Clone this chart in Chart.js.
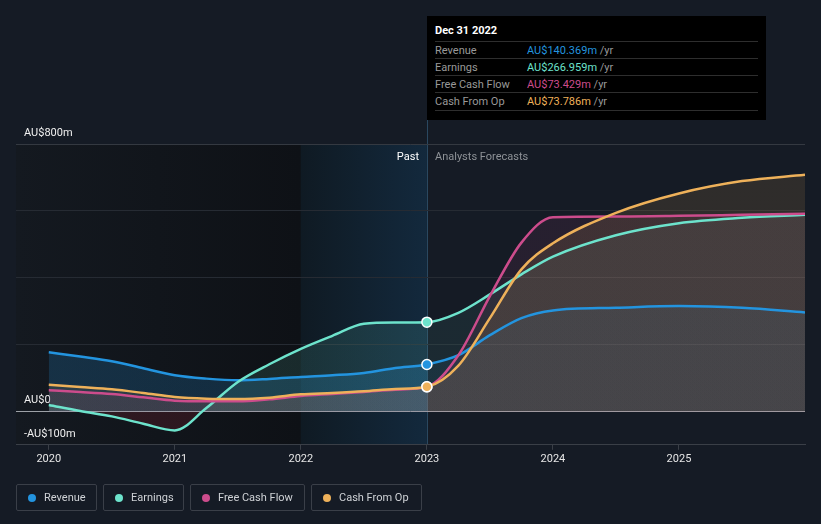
<!DOCTYPE html>
<html>

<head>
  <title>Earnings and Revenue Growth</title>
  <script src="https://cdn.jsdelivr.net/npm/chart.js"></script>
  <style>
    body { margin: 0; background: #151b25; font-family: Roboto, sans-serif; }
    #wrap { position: relative; width: 821px; height: 524px; overflow: hidden; }
    #chart { position: absolute; left: 0; top: 0; }
    .tip { position: absolute; left: 427px; top: 16px; width: 339px; height: 104px; background: #000; font-size: 11px; }
    .tip .title { position: absolute; left: 8px; top: 8px; color: #fff; font-weight: bold; }
    .tip .row { position: absolute; left: 8px; width: 323px; height: 17px; border-top: 1px solid #2e2e2e; line-height: 17px; }
    .tip .row.last { border-bottom: 1px solid #2e2e2e; }
    .tip .lbl { position: absolute; left: 0; color: #999; }
    .tip .val { position: absolute; left: 92px; }
    .tip .unit { color: #999; }
    .mark { position: absolute; top: 150px; font-size: 11px; line-height: 14px; }
    .legend { position: absolute; left: 16px; top: 484px; display: flex; gap: 6px; }
    .legend div { box-sizing: border-box; height: 27px; border: 1px solid #3a3f48; border-radius: 2px; display: flex; align-items: center; padding-left: 11px; color: #cfd2d6; font-size: 11px; }
    .legend span { width: 8px; height: 8px; border-radius: 50%; margin-right: 8px; }
  </style>
</head>

<body>
  <div id="wrap">
    <canvas id="chart" width="821" height="524"></canvas>

    <div class="mark" style="right: 402px; color: #fff;">Past</div>
    <div class="mark" style="left: 435px; color: #8e9297;">Analysts Forecasts</div>

    <div class="tip">
      <div class="title">Dec 31 2022</div>
      <div class="row" style="top: 25px;"><span class="lbl">Revenue</span><span class="val" style="color:#2394df">AU$140.369m <span class="unit">/yr</span></span></div>
      <div class="row" style="top: 42px;"><span class="lbl">Earnings</span><span class="val" style="color:#6de3cc">AU$266.959m <span class="unit">/yr</span></span></div>
      <div class="row" style="top: 59px;"><span class="lbl">Free Cash Flow</span><span class="val" style="color:#cc4c8c">AU$73.429m <span class="unit">/yr</span></span></div>
      <div class="row last" style="top: 76px;"><span class="lbl">Cash From Op</span><span class="val" style="color:#eeb15a">AU$73.786m <span class="unit">/yr</span></span></div>
    </div>

    <div class="legend">
      <div style="width: 81px;"><span style="background:#2394df"></span>Revenue</div>
      <div style="width: 81px;"><span style="background:#6de3cc"></span>Earnings</div>
      <div style="width: 115px;"><span style="background:#cc4c8c"></span>Free Cash Flow</div>
      <div style="width: 111px;"><span style="background:#eeb15a"></span>Cash From Op</div>
    </div>
  </div>

  <script>
    // values in AU$m
    const years = [2020, 2020.25, 2020.5, 2020.75, 2021, 2021.25, 2021.5, 2021.75, 2022, 2022.25, 2022.5, 2022.75,
      2023, 2023.25, 2023.5, 2023.75, 2024, 2024.5, 2025, 2025.5, 2026];
    const revenue = [177, 164, 150, 129, 108, 98, 93, 97, 103, 108, 115, 130,
      140.4, 168, 228, 279, 302, 310, 315, 310, 296];
    const earnings = [19, 1, -15, -37, -57, 10, 88, 141, 187, 226, 262, 266,
      267, 295, 350, 410, 463, 527, 563, 579, 588];
    const freeCashFlow = [63, 58, 52, 42, 32, 30, 30, 36, 46, 52, 58, 65,
      73.4, 168, 345, 505, 581, 583, 585, 588, 591];
    const cashFromOp = [80, 73, 66, 55, 43, 38, 37, 41, 51, 55, 60, 67,
      73.8, 137, 279, 425, 503, 594, 652, 689, 708];

    const xTicks = [2020, 2021, 2022, 2023, 2024, 2025];
    const yTickValues = [800, 0, -100];
    const yTickText = ['AU$800m', 'AU$0', '-AU$100m'];
    const pastEnd = 2023;
    const highlightStart = 2022;

    const rgba = (c, a) => `rgba(${c[0]}, ${c[1]}, ${c[2]}, ${a})`;

    // past fill colour left of "today", fainter forecast fill right of it
    function splitFill(chart, past, future) {
      const area = chart.chartArea;
      if (!area || !chart.scales.x) return past;
      const f = (chart.scales.x.getPixelForValue(pastEnd) - area.left) / (area.right - area.left);
      const g = chart.ctx.createLinearGradient(area.left, 0, area.right, 0);
      g.addColorStop(0, past);
      g.addColorStop(f, past);
      g.addColorStop(f, future);
      g.addColorStop(1, future);
      return g;
    }

    function series(label, values, color, pastA, futA, order) {
      return {
        label: label,
        data: years.map((yr, i) => ({ x: yr, y: values[i] })),
        borderColor: rgba(color, 1),
        borderWidth: 2.5,
        cubicInterpolationMode: 'monotone',
        fill: 'origin',
        backgroundColor: ctx => splitFill(ctx.chart, rgba(color, pastA), rgba(color, futA)),
        pointRadius: ctx => (ctx.raw && ctx.raw.x === pastEnd ? 5 : 0),
        pointBackgroundColor: rgba(color, 1),
        pointBorderColor: '#ffffff',
        pointBorderWidth: 1.5,
        order: order
      };
    }

    const earningsSet = series('Earnings', earnings, [109, 227, 204], 0.12, 0.08, 3);
    earningsSet.fill = { target: 'origin', below: 'rgba(190, 45, 65, 0.16)' };

    // darker past area, highlighted last year and the "today" line
    const backdrop = {
      id: 'backdrop',
      beforeDraw(chart) {
        const { ctx, chartArea: a, scales: { x } } = chart;
        const x22 = x.getPixelForValue(highlightStart);
        const x23 = x.getPixelForValue(pastEnd);
        ctx.save();
        let g = ctx.createLinearGradient(a.left, 0, x22, 0);
        g.addColorStop(0, '#141920');
        g.addColorStop(1, '#0e1116');
        ctx.fillStyle = g;
        ctx.fillRect(a.left, a.top, x22 - a.left, a.bottom - a.top);
        g = ctx.createLinearGradient(x22, 0, x23, 0);
        g.addColorStop(0, '#0f1a23');
        g.addColorStop(1, '#13293d');
        ctx.fillStyle = g;
        ctx.fillRect(x22, a.top, x23 - x22, a.bottom - a.top);
        ctx.strokeStyle = '#2a4860';
        ctx.lineWidth = 1;
        ctx.beginPath();
        ctx.moveTo(Math.round(x23) + 0.5, 120);
        ctx.lineTo(Math.round(x23) + 0.5, a.bottom);
        ctx.stroke();
        ctx.restore();
      }
    };

    Chart.defaults.font.family = 'Roboto';
    Chart.defaults.font.size = 11;

    new Chart(document.getElementById('chart'), {
      type: 'line',
      data: {
        datasets: [
          series('Revenue', revenue, [35, 148, 223], 0.2, 0.08, 4),
          earningsSet,
          series('Free Cash Flow', freeCashFlow, [204, 76, 140], 0.1, 0.1, 2),
          series('Cash From Op', cashFromOp, [238, 177, 90], 0.1, 0.12, 1)
        ]
      },
      options: {
        responsive: false,
        animation: false,
        events: [],
        layout: { padding: { top: 144, right: 16, bottom: 55, left: 0 } },
        plugins: {
          legend: { display: false },
          tooltip: { enabled: false },
          filler: { drawTime: 'beforeDatasetsDraw' }
        },
        scales: {
          x: {
            type: 'linear',
            min: 2019.74,
            max: 2026,
            afterBuildTicks: scale => { scale.ticks = xTicks.map(v => ({ value: v })); },
            ticks: { color: '#e6e6e6', padding: 3, callback: v => String(v) },
            grid: { drawOnChartArea: false, color: '#3a3f47', tickLength: 5 },
            border: { color: '#3a3f47' }
          },
          y: {
            min: -100,
            max: 800,
            ticks: {
              stepSize: 100,
              mirror: true,
              padding: 8,
              labelOffset: -11,
              color: '#f0f0f0',
              callback: v => {
                const i = yTickValues.indexOf(v);
                return i < 0 ? '' : yTickText[i];
              }
            },
            grid: {
              drawTicks: false,
              color: ctx => {
                const v = ctx.tick.value;
                if (v === 0) return '#9da1a7';
                if (v === 800 || v === -100) return '#343941';
                return v % 200 === 0 ? '#262b33' : 'rgba(0,0,0,0)';
              }
            },
            border: { display: false }
          }
        }
      },
      plugins: [backdrop]
    });
  </script>
</body>

</html>
